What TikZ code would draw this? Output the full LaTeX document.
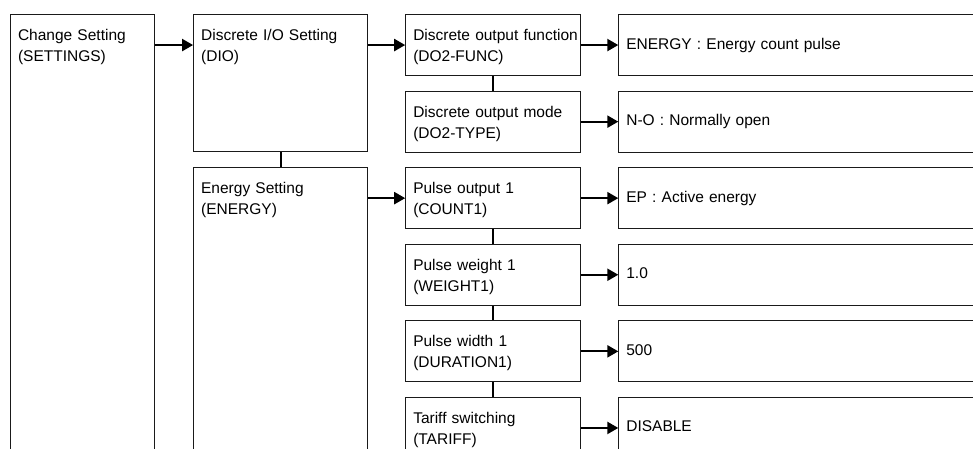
\documentclass[tikz,border=0pt]{standalone}
\usepackage{fontspec}
\setmainfont{Liberation Sans}
\usetikzlibrary{arrows.meta, positioning}
\definecolor{cline}{HTML}{1A1A1A}
\tikzset{
  every picture/.style={x=1pt, y=1pt, line width=1.1pt, draw=cline},
  box/.style={draw=cline, rectangle, anchor=north west, align=left, inner xsep=7.5pt, inner ysep=0pt,
    text width=#1, minimum height=61pt, text height=15.5pt, font=\fontsize{15.5}{21}\selectfont},
  box/.default=160pt,
  tag/.style={box=#1, draw=none},
  value/.style={box=355pt, text height=11.3pt, text depth=3.3pt},
  tall/.style={draw=cline, rectangle, anchor=north west, inner sep=0pt, minimum width=#1},
  arrow/.style={-{Triangle[length=11pt, width=12pt]}, draw=black, line width=2.2pt},
  link/.style={draw=black, line width=2pt},
}

\begin{document}
\begin{tikzpicture}
  \useasboundingbox (0,0) rectangle (973,-449);
  \clip (0,0) rectangle (973,-449);
  % left column, open at the bottom
  \node[tall=144pt, minimum height=450pt] (set) at (10,-14) {};
  \node[tag=129pt] (settxt) at (set.north west) {Change Setting\\(SETTINGS)};
  % groups
  \node[tall=174pt, minimum height=137pt, right=38pt of set.north east, anchor=north west] (dio) {};
  \node[tag=159pt] (diotxt) at (dio.north west) {Discrete I/O Setting\\(DIO)};
  \node[tall=174pt, minimum height=300pt, below=15pt of dio] (energy) {};
  \node[tag=159pt] (energytxt) at (energy.north west) {Energy Setting\\(ENERGY)};
  % items
  \node[box, right=37pt of dio.north east, anchor=north west] (func) {\mbox{Discrete output function}\\(DO2-FUNC)};
  \node[box, below=14.5pt of func] (type) {Discrete output mode\\(DO2-TYPE)};
  \node[box, right=37pt of energy.north east, anchor=north west] (count) {Pulse output 1\\(COUNT1)};
  \node[box, below=14.5pt of count] (weight) {Pulse weight 1\\(WEIGHT1)};
  \node[box, below=14.5pt of weight] (dur) {Pulse width 1\\(DURATION1)};
  \node[box, below=14.5pt of dur] (tariff) {Tariff switching\\(TARIFF)};
  % values
  \node[value, right=37pt of func] (funcval) {ENERGY : Energy count pulse};
  \node[value, right=37pt of type] (typeval) {N-O : Normally open};
  \node[value, right=37pt of count] (countval) {EP : Active energy};
  \node[value, right=37pt of weight] (weightval) {1.0};
  \node[value, right=37pt of dur] (durval) {500};
  \node[value, right=37pt of tariff] (tariffval) {DISABLE};

  \draw[arrow] (set.east |- func.west) -- (dio.west |- func.west);
  \draw[arrow] (dio.east |- func.west) -- (func.west);
  \draw[arrow] (energy.east |- count.west) -- (count.west);
  \draw[link] (dio) -- (energy);
  \foreach \a/\b in {func/type, count/weight, weight/dur, dur/tariff}
    \draw[link] (\a) -- (\b);
  \foreach \a/\b in {func/funcval, type/typeval, count/countval, weight/weightval, dur/durval, tariff/tariffval}
    \draw[arrow] (\a) -- (\b);
\end{tikzpicture}
\end{document}
